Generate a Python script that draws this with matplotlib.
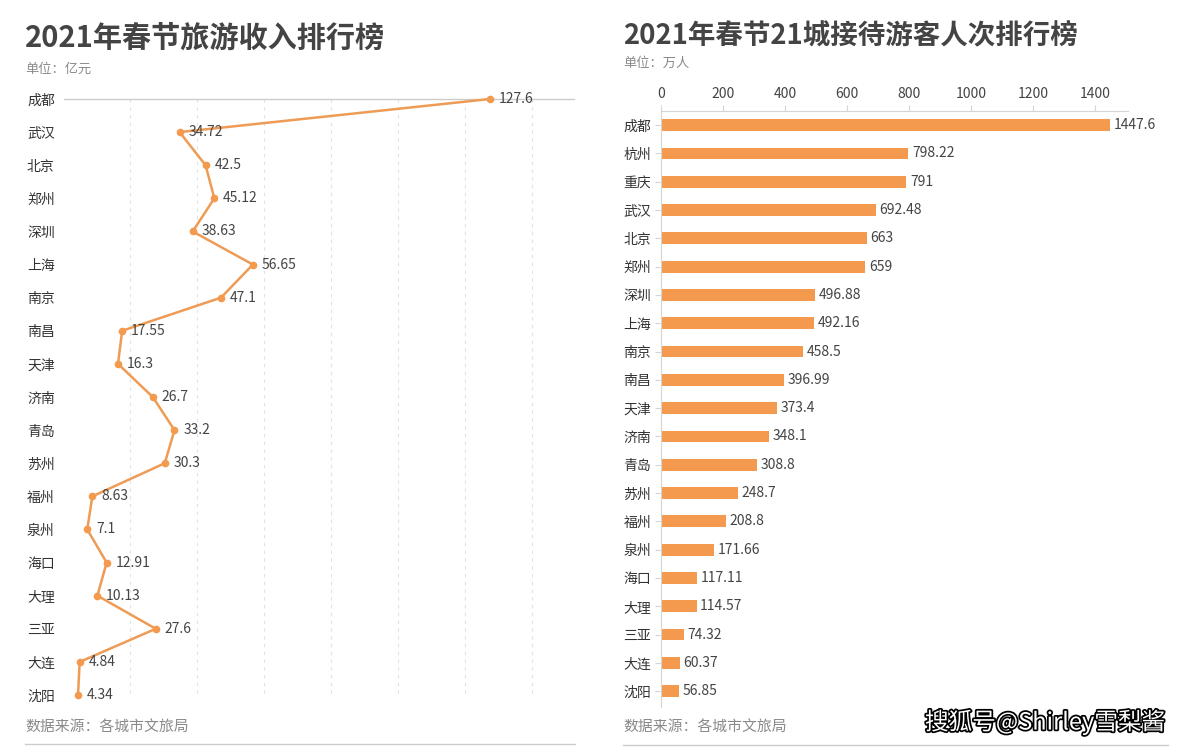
import matplotlib
matplotlib.use("Agg")
import matplotlib.pyplot as plt
import matplotlib.patheffects as pe

plt.rcParams['font.family'] = ['Noto Sans CJK SC', 'DejaVu Sans']

# 左图：旅游收入（亿元）
cities_left = ["成都", "武汉", "北京", "郑州", "深圳", "上海", "南京", "南昌", "天津", "济南",
               "青岛", "苏州", "福州", "泉州", "海口", "大理", "三亚", "大连", "沈阳"]
income = [127.6, 34.72, 42.5, 45.12, 38.63, 56.65, 47.1, 17.55, 16.3, 26.7,
          33.2, 30.3, 8.63, 7.1, 12.91, 10.13, 27.6, 4.84, 4.34]

# 右图：接待游客人次（万人）
cities_right = ["成都", "杭州", "重庆", "武汉", "北京", "郑州", "深圳", "上海", "南京", "南昌",
                "天津", "济南", "青岛", "苏州", "福州", "泉州", "海口", "大理", "三亚", "大连", "沈阳"]
visitors = [1447.6, 798.22, 791, 692.48, 663, 659, 496.88, 492.16, 458.5, 396.99,
            373.4, 348.1, 308.8, 248.7, 208.8, 171.66, 117.11, 114.57, 74.32, 60.37, 56.85]
right_ticks = [0, 200, 400, 600, 800, 1000, 1200, 1400]

W, H = 1192, 749
ORANGE = "#F39A4E"
LINE = "#EE9B55"
DARK = "#444444"
GREY = "#8a8a8a"


def px_axes(fig, x0, y0, x1, y1):
    # boite en pixels (origine en haut a gauche) -> fraction de figure
    return fig.add_axes([x0 / W, 1 - y1 / H, (x1 - x0) / W, (y1 - y0) / H])


fig = plt.figure(figsize=(W / 100, H / 100), dpi=100)
fig.patch.set_facecolor("white")

# ---------- 左图 ----------
ax1 = px_axes(fig, 63.5, 99, 574, 695)
n1 = len(cities_left)
rows1 = list(range(n1))
ax1.set_xlim(0, 152.7)
ax1.set_ylim(n1 - 1, 0)
for x in range(20, 160, 20):
    ax1.plot([x, x], [0, n1 - 1], color="#e2e2e2", lw=0.8, ls=(0, (3, 4)), zorder=1, clip_on=False)
ax1.plot(income, rows1, color=LINE, lw=1.8, marker="o", ms=4.5, mfc=ORANGE, mec=ORANGE,
         zorder=3, clip_on=False)
for v, r in zip(income, rows1):
    ax1.text(v + 2.6, r, "{:g}".format(v), va="center", ha="left", fontsize=10, color=DARK, zorder=4)
for s in ["left", "right", "bottom"]:
    ax1.spines[s].set_visible(False)
ax1.spines["top"].set_color("#cccccc")
ax1.spines["top"].set_linewidth(1)
ax1.set_xticks([])
ax1.set_yticks(rows1)
ax1.set_yticklabels(cities_left, fontsize=10, color="#333333")
ax1.tick_params(axis="y", length=0, pad=0)
for lab in ax1.get_yticklabels():
    lab.set_horizontalalignment("left")
    lab.set_x(-(63.5 - 27) / (574 - 63.5))
    lab.set_transform(ax1.get_yaxis_transform())

# ---------- 右图 ----------
ax2 = px_axes(fig, 661, 111, 1127.5, 707)
n2 = len(cities_right)
rows2 = list(range(n2))
ax2.set_xlim(0, 1505)
ax2.set_ylim(n2 - 0.44, -0.5)
ax2.barh(rows2, visitors, height=0.42, color=ORANGE, zorder=2)
for v, r in zip(visitors, rows2):
    ax2.text(v + 12, r, "{:g}".format(v), va="center", ha="left", fontsize=10, color=DARK)
ax2.xaxis.tick_top()
ax2.set_xticks(right_ticks)
ax2.set_xticklabels([str(t) for t in right_ticks], fontsize=10, color=DARK)
ax2.tick_params(axis="x", length=4, color="#d5d5d5", pad=3)
ax2.set_yticks(rows2)
ax2.set_yticklabels(cities_right, fontsize=10, color="#333333")
ax2.tick_params(axis="y", length=4, color="#d5d5d5", pad=3)
for s in ["right", "bottom"]:
    ax2.spines[s].set_visible(False)
ax2.spines["top"].set_color("#d5d5d5")
ax2.spines["left"].set_color("#d5d5d5")

# ---------- 标题、注释 ----------
fig.text(25 / W, 1 - 38 / H, "2021年春节旅游收入排行榜", fontsize=21, fontweight="bold",
         color=DARK, va="center", ha="left")
fig.text(25 / W, 1 - 69 / H, "单位：亿元", fontsize=9.5, color=GREY, va="center", ha="left")
fig.text(623 / W, 1 - 35 / H, "2021年春节21城接待游客人次排行榜", fontsize=19.8, fontweight="bold",
         color=DARK, va="center", ha="left")
fig.text(623 / W, 1 - 63 / H, "单位：万人", fontsize=9.5, color=GREY, va="center", ha="left")

fig.text(25 / W, 1 - 727 / H, "数据来源：各城市文旅局", fontsize=10.7, color=GREY, va="center", ha="left")
fig.text(623 / W, 1 - 727 / H, "数据来源：各城市文旅局", fontsize=10.7, color=GREY, va="center", ha="left")
fig.add_artist(plt.Line2D([25 / W, 575 / W], [1 - 744 / H, 1 - 744 / H], color="#cccccc", lw=1))
fig.add_artist(plt.Line2D([623 / W, 1168 / W], [1 - 745 / H, 1 - 745 / H], color="#cccccc", lw=1))

fig.text(1165 / W, 1 - 722 / H, "搜狐号@Shirley雪梨酱", fontsize=17, color="white",
         va="center", ha="right",
         path_effects=[pe.withStroke(linewidth=2.5, foreground="black")])

fig.savefig("out.png", dpi=100, facecolor="white")
